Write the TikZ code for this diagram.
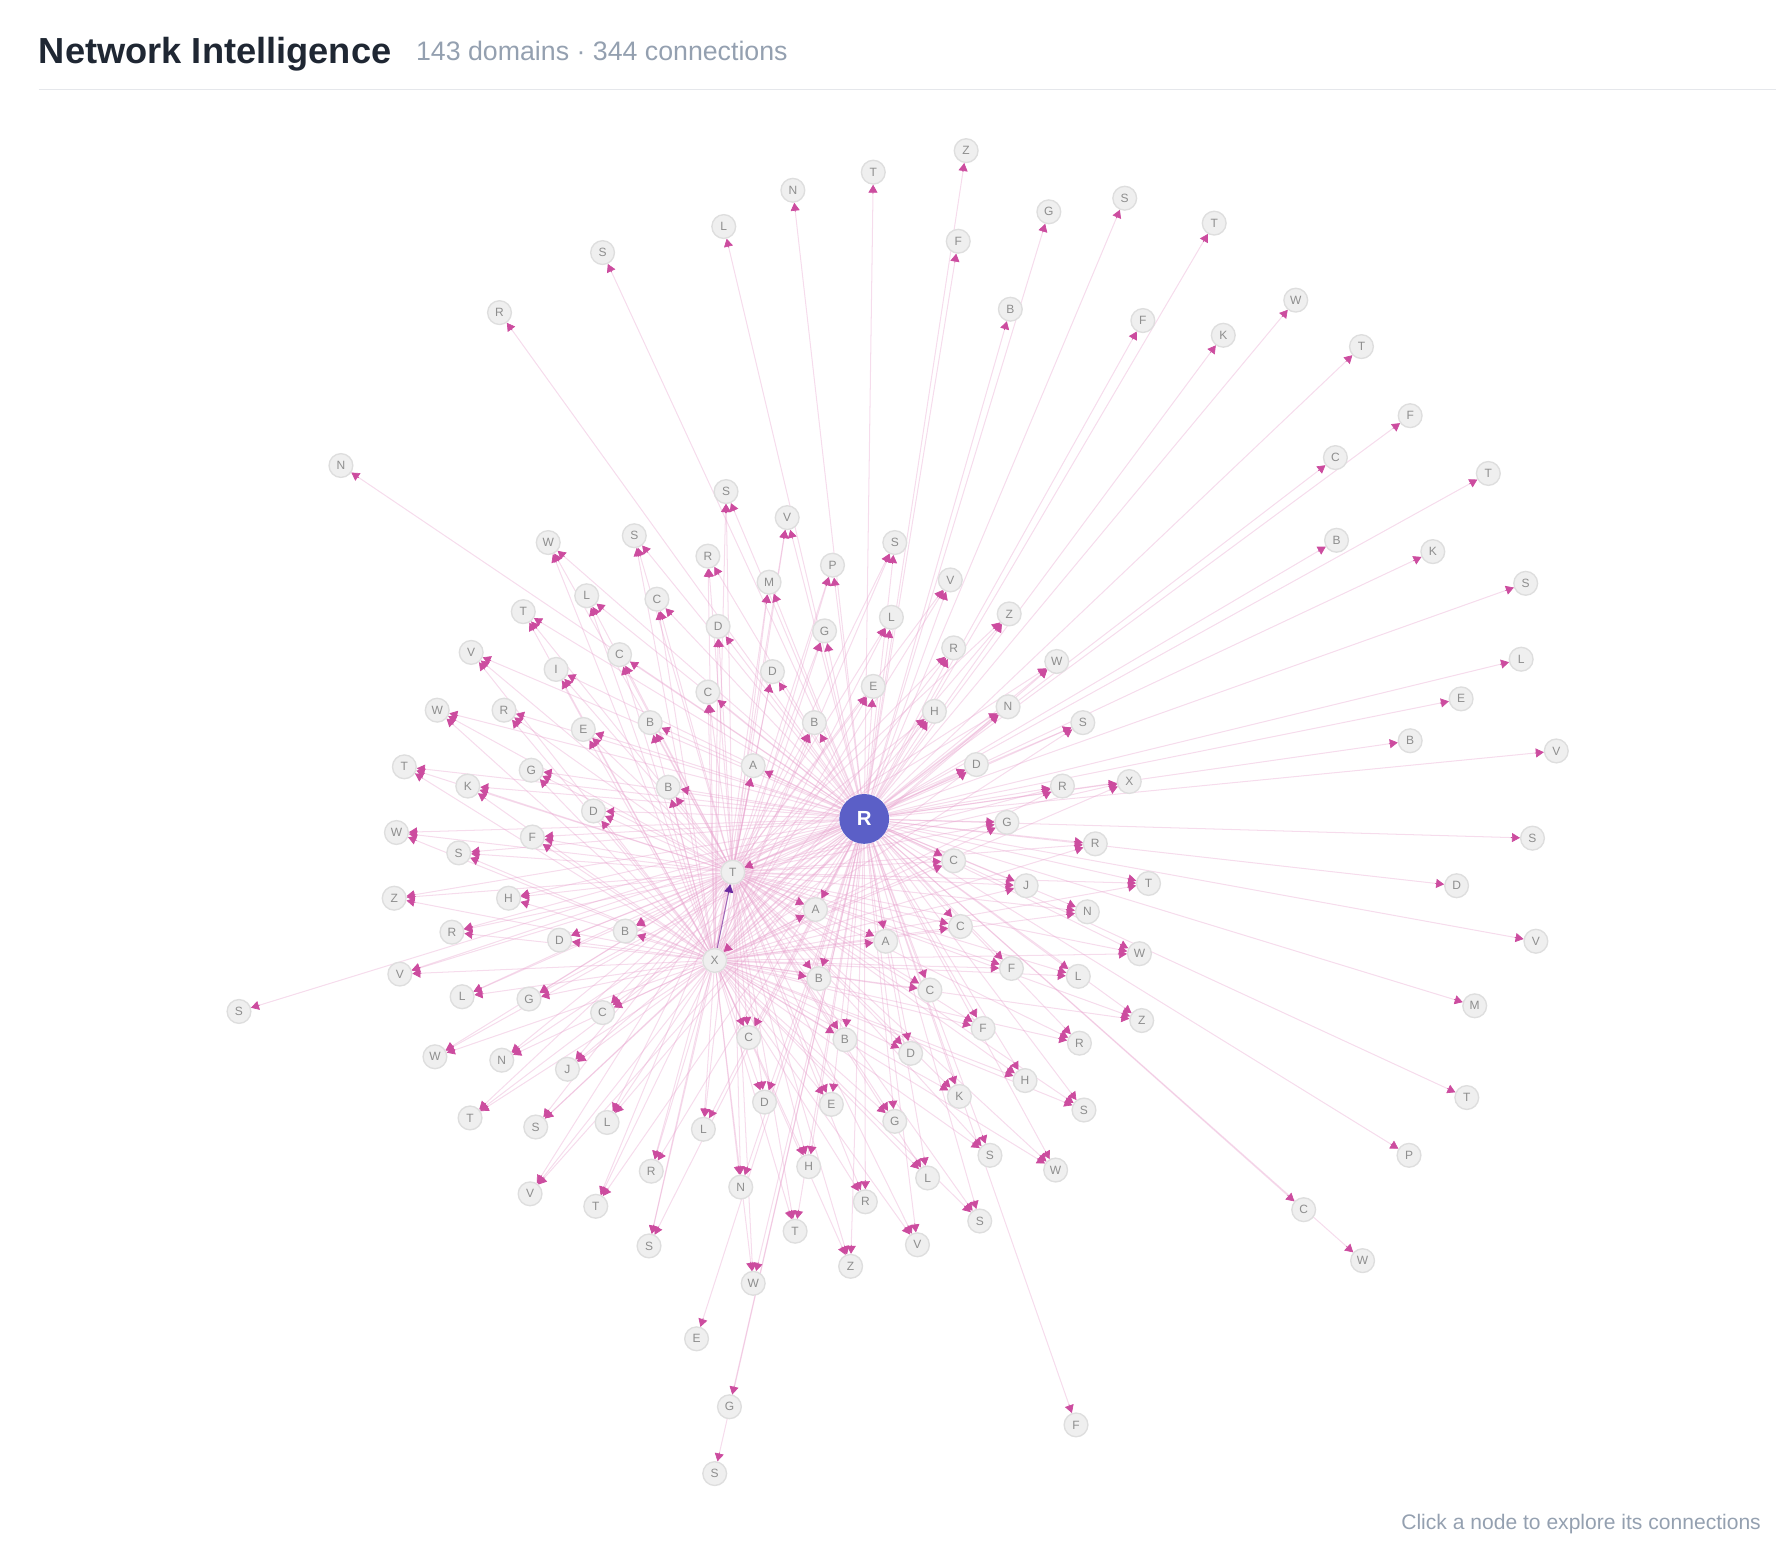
\documentclass[tikz,border=0pt]{standalone}
\usepackage{fontspec}
\setmainfont{Liberation Sans}
\usetikzlibrary{arrows.meta,calc,backgrounds,positioning}

\definecolor{hubblue}{HTML}{5B5FC7}
\definecolor{leaffill}{HTML}{EFEFEF}
\definecolor{leafline}{HTML}{DEDEDE}
\definecolor{leaftext}{HTML}{8E8E8E}
\definecolor{wirepink}{HTML}{E7A2CD}
\definecolor{headpink}{HTML}{CC4C9F}
\definecolor{headpurple}{HTML}{6A2A9E}
\definecolor{titleink}{HTML}{1F2733}
\definecolor{greyink}{HTML}{94A0B0}
\definecolor{ruleline}{HTML}{E5E7EB}

\begin{document}
\begin{tikzpicture}[x=0.5pt, y=-0.5pt,
    leaf/.style={circle, draw=leafline, fill=leaffill, line width=0.6pt, minimum size=10.5pt, inner sep=0pt, text=leaftext, font=\fontsize{5.3}{5.3}\selectfont},
    hub/.style={circle, fill=hubblue, minimum size=22pt, inner sep=0pt, text=white, font=\fontsize{9}{9}\selectfont\bfseries},
    wire/.style={draw=wirepink, line width=0.45pt, draw opacity=0.38},
    arrowhd/.style={draw=headpink, fill=headpink, line width=0.3pt, -{Triangle[length=3.5pt, width=4pt]}},
    label/.style={inner sep=0pt, anchor=base west}
]
\useasboundingbox (0,0) rectangle (1568,1376);

% header
\node[label, text=titleink, font=\fontsize{16}{16}\selectfont\bfseries] (title) at (34,56) {Network Intelligence};
\node[inner sep=0pt, base right=10.5pt of title, yshift=1.5pt, text=greyink, font=\fontsize{11.8}{12}\selectfont] (stats) {143 domains · 344 connections};
\draw[ruleline, line width=0.75pt] (34,79) -- (1568,79);
\node[inner sep=0pt, anchor=base east, text=greyink, font=\fontsize{9.3}{10}\selectfont] (hint) at (1555,1350) {Click a node to explore its connections};

% hubs
\node[hub] (hubR) at (763,723) {R};
\node[leaf] (hubX) at (631,848) {X};
\node[leaf] (hubT) at (647,770) {T};

% outer ring, reached from R only
\foreach \px/\py/\lt [count=\i] in {853/133/Z, 771/152/T, 700/168/N, 926/187/G, 993/175/S,
    639/200/L, 846/213/F, 1072/197/T, 532/223/S, 441/276/R, 892/273/B, 1009/283/F,
    1080/296/K, 1144/265/W, 1202/306/T, 1245/367/F, 1179/404/C, 1314/418/T, 301/411/N,
    1180/477/B, 1265/487/K, 1347/515/S, 1343/582/L, 1290/617/E, 1245/654/B, 1374/663/V,
    1353/740/S, 1286/782/D, 1356/831/V, 1302/888/M, 1295/969/T, 1244/1020/P, 1151/1068/C,
    1203/1113/W, 950/1258/F, 211/893/S, 615/1182/E, 644/1242/G, 631/1301/S}
  \node[leaf] (o\i) at (\px,\py) {\lt};

% inner cloud, reached from R, X and T
\foreach \px/\py/\lt [count=\i] in {641/434/S, 695/457/V, 484/479/W, 560/473/S, 625/491/R,
    735/499/P, 790/479/S, 679/514/M, 839/512/V, 518/526/L, 580/529/C, 462/540/T, 634/553/D,
    728/557/G, 787/545/L, 891/542/Z, 416/576/V, 547/578/C, 491/591/I, 682/593/D, 842/572/R,
    933/584/W, 625/611/C, 771/606/E, 719/638/B, 825/628/H, 890/624/N, 956/638/S, 386/627/W,
    445/627/R, 515/644/E, 574/638/B, 862/675/D, 665/676/A, 357/677/T, 469/680/G, 413/694/K,
    590/695/B, 938/694/R, 997/690/X, 524/716/D, 889/726/G, 350/735/W, 470/739/F, 405/753/S,
    967/745/R, 842/760/C, 906/782/J, 1014/780/T, 348/793/Z, 449/793/H, 720/803/A, 960/805/N,
    552/822/B, 494/830/D, 399/823/R, 848/818/C, 782/831/A, 1006/842/W, 353/860/V, 893/855/F,
    952/862/L, 723/864/B, 408/880/L, 467/882/G, 821/874/C, 532/894/C, 1008/901/Z, 868/908/F,
    384/933/W, 443/936/N, 746/918/B, 661/916/C, 953/921/R, 501/944/J, 804/930/D, 905/954/H,
    847/968/K, 957/980/S, 415/987/T, 473/995/S, 536/991/L, 621/997/L, 675/973/D, 734/975/E,
    790/990/G, 874/1020/S, 932/1033/W, 714/1030/H, 575/1034/R, 654/1048/N, 819/1040/L,
    468/1054/V, 526/1065/T, 764/1061/R, 865/1078/S, 573/1100/S, 702/1087/T, 810/1099/V,
    751/1118/Z, 665/1133/W}
  \node[leaf] (m\i) at (\px,\py) {\lt};

% connections
\begin{scope}[on background layer]
  \foreach \i in {1,...,39}
    \draw[wire] (hubR) -- (o\i);
  \foreach \i in {1,...,101}
    \foreach \src in {hubR,hubX,hubT}
      \draw[wire] (\src) -- (m\i);
  \draw[wire] (hubR) -- (hubX);
  \draw[wire] (hubR) -- (hubT);
  \draw[wire, draw=headpurple, draw opacity=0.6] (hubX) -- (hubT);

  \foreach \i in {1,...,39}
    \draw[arrowhd] ($(o\i)!9.5pt!(hubR)$) -- (o\i);
  \foreach \i in {1,...,101}
    \foreach \src in {hubR,hubX,hubT}
      \draw[arrowhd] ($(m\i)!9.5pt!(\src)$) -- (m\i);
  \draw[arrowhd] ($(hubX)!9.5pt!(hubR)$) -- (hubX);
  \draw[arrowhd] ($(hubT)!9.5pt!(hubR)$) -- (hubT);
  \draw[arrowhd, draw=headpurple, fill=headpurple] ($(hubT)!9.5pt!(hubX)$) -- (hubT);
\end{scope}

\end{tikzpicture}
\end{document}
